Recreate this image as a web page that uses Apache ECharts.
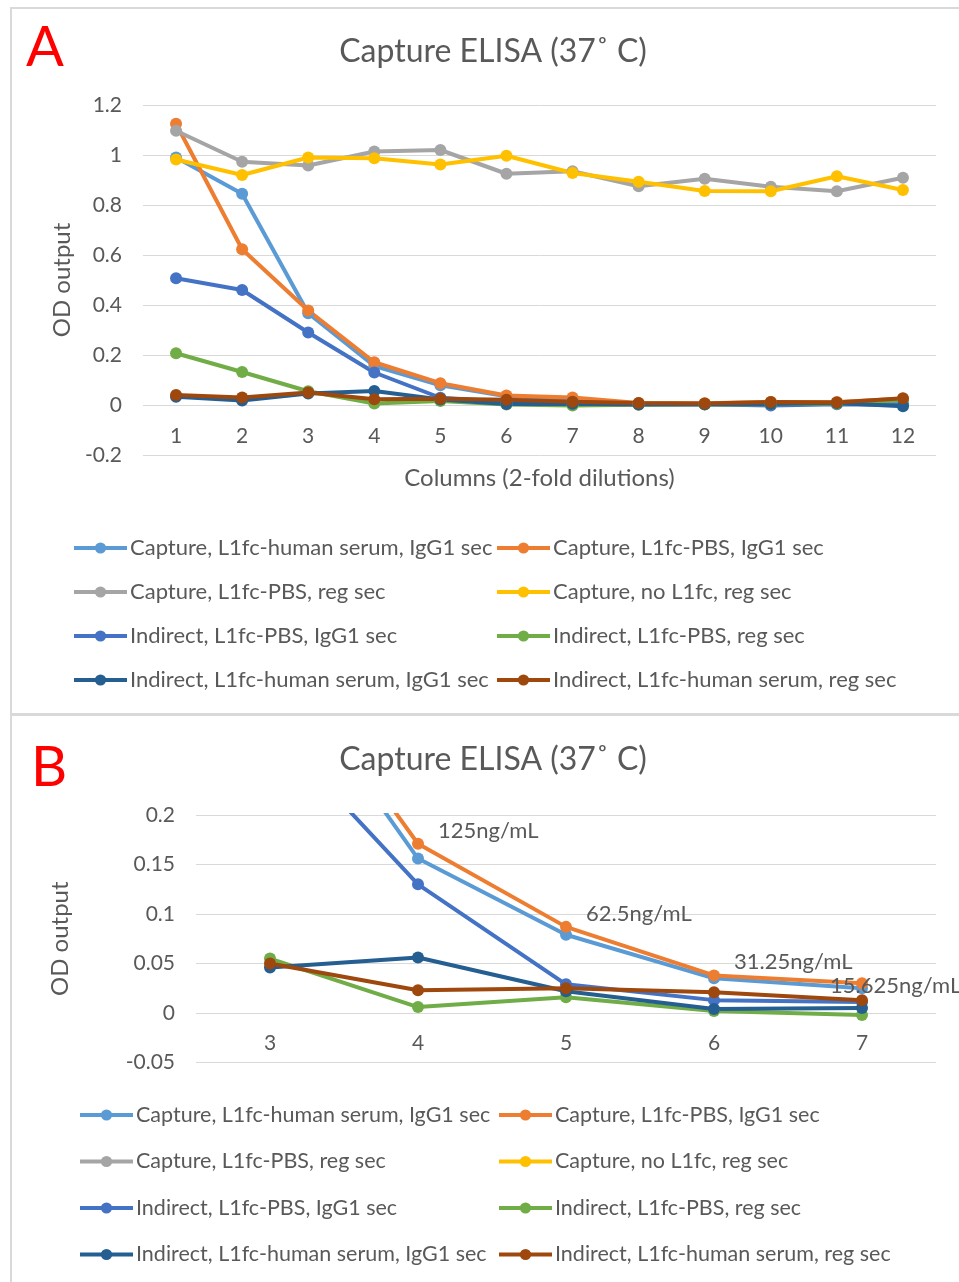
<!DOCTYPE html>
<html>
<head>
<meta charset="utf-8">
<script src="https://cdn.jsdelivr.net/npm/echarts@6/dist/echarts.min.js"></script>
<style>
html,body{margin:0;padding:0;background:#fff;}
#c{width:959px;height:1282px;}
</style>
</head>
<body>
<div id="c"></div>
<script>
// ---- data ----
var colsA = ['1','2','3','4','5','6','7','8','9','10','11','12'];
var colsB = ['3','4','5','6','7'];
var seriesNames = [
  'Capture, L1fc-human serum, IgG1 sec',
  'Capture, L1fc-PBS, IgG1 sec',
  'Capture, L1fc-PBS, reg sec',
  'Capture, no L1fc, reg sec',
  'Indirect, L1fc-PBS, IgG1 sec',
  'Indirect, L1fc-PBS, reg sec',
  'Indirect, L1fc-human serum, IgG1 sec',
  'Indirect, L1fc-human serum, reg sec'
];
var capHumanIgG1 = [0.990, 0.845, 0.367, 0.156, 0.079, 0.035, 0.025, 0.004, 0.003, 0.002, 0.006, 0.005];
var capPBSIgG1   = [1.125, 0.623, 0.378, 0.171, 0.087, 0.038, 0.030, 0.008, 0.007, 0.012, 0.012, 0.025];
var capPBSReg    = [1.097, 0.973, 0.958, 1.014, 1.020, 0.925, 0.935, 0.875, 0.905, 0.873, 0.855, 0.909];
var capNoL1Reg   = [0.982, 0.920, 0.990, 0.987, 0.962, 0.997, 0.928, 0.893, 0.856, 0.855, 0.915, 0.860];
var indPBSIgG1   = [0.507, 0.460, 0.290, 0.130, 0.029, 0.013, 0.011, 0.004, 0.003, -0.002, 0.003, 0.000];
var indPBSReg    = [0.207, 0.132, 0.055, 0.006, 0.016, 0.002, -0.002, 0.001, 0.002, 0.003, 0.005, 0.020];
var indHumanIgG1 = [0.033, 0.018, 0.046, 0.056, 0.022, 0.004, 0.005, 0.002, 0.003, 0.004, 0.008, -0.005];
var indHumanReg  = [0.040, 0.030, 0.050, 0.023, 0.025, 0.021, 0.013, 0.008, 0.006, 0.012, 0.010, 0.027];
var concLabels = ['', '125ng/mL', '62.5ng/mL', '31.25ng/mL', '15.625ng/mL'];
var titleText = 'Capture ELISA (37\u02DA C)';

var allData = [capHumanIgG1, capPBSIgG1, capPBSReg, capNoL1Reg, indPBSIgG1, indPBSReg, indHumanIgG1, indHumanReg];
var colors = ['#5B9BD5', '#ED7D31', '#A5A5A5', '#FFC000', '#4472C4', '#70AD47', '#255E91', '#9E480E'];

var FONT = 'Lato';
var TXT = '#595959';

function mkSeries(idx, xi, yi, data) {
  return {
    name: seriesNames[idx], type: 'line', xAxisIndex: xi, yAxisIndex: yi,
    data: data, symbol: 'circle', symbolSize: 12, showSymbol: true,
    lineStyle: {width: 4, color: colors[idx]},
    itemStyle: {color: colors[idx]},
    emphasis: {disabled: true}, animation: false, clip: true
  };
}

var series = [];
for (var i = 0; i < 8; i++) series.push(mkSeries(i, 0, 0, allData[i]));
for (var j = 0; j < 8; j++) {
  var d = allData[j].slice(2, 7);
  if (j === 1) {
    d = d.map(function (v, k) {
      var o = {value: v};
      if (concLabels[k]) {
        o.label = {show: true, formatter: concLabels[k], position: 'right',
          distance: 14, offset: k === 4 ? [-52, 3] : [0, -13],
          color: TXT, fontSize: 22, fontFamily: FONT};
      }
      return o;
    });
  }
  series.push(mkSeries(j, 1, 1, d));
}

function legend(items, left, top, gap, fs) {
  return {
    orient: 'vertical', left: left, top: top, itemGap: gap, padding: 0,
    itemWidth: 53, itemHeight: 14, selectedMode: false,
    lineStyle: {width: 4},
    data: items.map(function (n) { return seriesNames[n]; }),
    textStyle: {color: TXT, fontSize: fs, fontFamily: FONT, lineHeight: 20, padding: [0, 0, 0, -2]}
  };
}

var axisLabel = {color: TXT, fontSize: 21, fontFamily: FONT};

var option = {
  animation: false,
  backgroundColor: '#fff',
  textStyle: {fontFamily: FONT},
  title: [
    {text: titleText, left: 488, top: 31, textAlign: 'center',
     textStyle: {color: TXT, fontSize: 32, fontWeight: 'normal', fontFamily: FONT}},
    {text: titleText, left: 488, top: 739, textAlign: 'center',
     textStyle: {color: TXT, fontSize: 32, fontWeight: 'normal', fontFamily: FONT}}
  ],
  legend: [
    legend([0, 2, 4, 6], 72, 537, 22, 22),
    legend([1, 3, 5, 7], 495, 537, 22, 22),
    legend([0, 2, 4, 6], 78, 1104, 24.5, 21.5),
    legend([1, 3, 5, 7], 497, 1104, 24.5, 21.5)
  ],
  grid: [
    {left: 143, right: 23, top: 105, height: 350},
    {left: 196, right: 23, top: 815, height: 247.5}
  ],
  xAxis: [
    {type: 'category', gridIndex: 0, data: colsA, boundaryGap: true, position: 'bottom', offset: -50,
     axisLine: {show: false, onZero: false}, axisTick: {show: false},
     axisLabel: Object.assign({margin: 21}, axisLabel),
     name: 'Columns (2-fold dilutions)', nameLocation: 'middle', nameGap: 61,
     nameTextStyle: {color: TXT, fontSize: 24, fontFamily: FONT}},
    {type: 'category', gridIndex: 1, data: colsB, boundaryGap: true, position: 'bottom', offset: -49.5,
     axisLine: {show: false, onZero: false}, axisTick: {show: false},
     axisLabel: Object.assign({margin: 20}, axisLabel)}
  ],
  yAxis: [
    {type: 'value', gridIndex: 0, min: -0.2, max: 1.2, interval: 0.2,
     axisLine: {show: false}, axisTick: {show: false},
     axisLabel: Object.assign({margin: 21, formatter: function (v) { return String(+v.toFixed(2)); }}, axisLabel),
     splitLine: {lineStyle: {color: '#d9d9d9', width: 1}},
     name: 'OD output', nameLocation: 'middle', nameGap: 68, nameRotate: 90,
     nameTextStyle: {color: TXT, fontSize: 24, fontFamily: FONT}},
    {type: 'value', gridIndex: 1, min: -0.05, max: 0.2, interval: 0.05,
     axisLine: {show: false}, axisTick: {show: false},
     axisLabel: Object.assign({margin: 21, formatter: function (v) { return String(+v.toFixed(2)); }}, axisLabel),
     splitLine: {lineStyle: {color: '#d9d9d9', width: 1}},
     name: 'OD output', nameLocation: 'middle', nameGap: 124, nameRotate: 90,
     nameTextStyle: {color: TXT, fontSize: 24, fontFamily: FONT}}
  ],
  graphic: [
    {type: 'rect', shape: {x: 11, y: 8, width: 960, height: 706}, z: -1,
     style: {fill: 'none', stroke: '#d9d9d9', lineWidth: 2}},
    {type: 'rect', shape: {x: 11, y: 715, width: 960, height: 600}, z: -1,
     style: {fill: 'none', stroke: '#d9d9d9', lineWidth: 2}},
    {type: 'text', x: 45, y: 48, z: 10,
     style: {text: 'A', fill: '#FF0000', font: '56px Lato', textAlign: 'center', textVerticalAlign: 'middle',
       shadowColor: 'rgba(0,0,0,0.35)', shadowBlur: 3, shadowOffsetX: 2, shadowOffsetY: 2}},
    {type: 'text', x: 49, y: 768, z: 10,
     style: {text: 'B', fill: '#FF0000', font: '56px Lato', textAlign: 'center', textVerticalAlign: 'middle',
       shadowColor: 'rgba(0,0,0,0.35)', shadowBlur: 3, shadowOffsetX: 2, shadowOffsetY: 2}}
  ],
  series: series
};

var chart = echarts.init(document.getElementById('c'), null, {renderer: 'canvas'});
chart.setOption(option);
</script>
</body>
</html>
